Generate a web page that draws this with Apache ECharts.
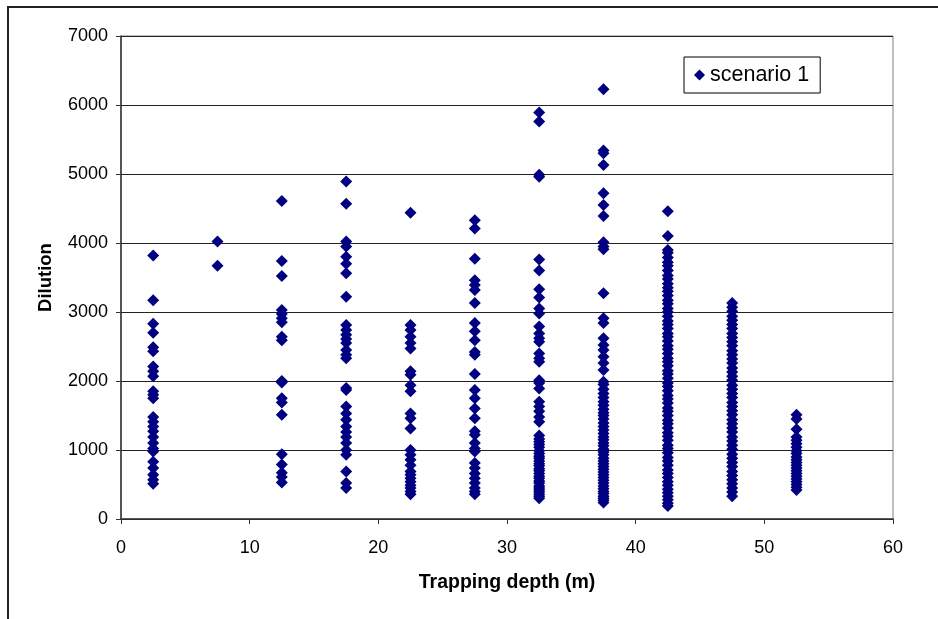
<!DOCTYPE html>
<html>
<head>
<meta charset="utf-8">
<script src="https://cdn.jsdelivr.net/npm/echarts@6/dist/echarts.min.js"></script>
<style>
  html, body { margin: 0; padding: 0; background: #fff; }
  #chart { width: 938px; height: 619px; }
</style>
</head>
<body>
<div id="chart"></div>
<script>
// Trapping depths (m) of each sampling column
const depths = [2.5, 7.5, 12.5, 17.5, 22.5, 27.5, 32.5, 37.5, 42.5, 47.5, 52.5];

// Dilution values measured at each depth
const dilution_2_5 = [3820, 3170, 2830, 2700, 2490, 2430, 2210, 2140, 2070, 1850, 1800, 1750,
  1480, 1410, 1340, 1270, 1190, 1100, 1020, 980, 830, 740, 640, 570, 510];
const dilution_7_5 = [4020, 3670];
const dilution_12_5 = [4610, 3740, 3520, 3030, 2970, 2910, 2850, 2640, 2590, 2000, 1980, 1750,
  1690, 1510, 940, 790, 670, 610, 530];
const dilution_17_5 = [4890, 4570, 4020, 3950, 3800, 3700, 3560, 3220, 2810, 2740, 2670, 2610,
  2550, 2450, 2380, 2330, 1900, 1870, 1630, 1530, 1440, 1340, 1260, 1190, 1100, 1000, 930, 690,
  520, 450];
const dilution_22_5 = [4440, 2810, 2740, 2640, 2550, 2470, 2140, 2090, 1940, 1850, 1530, 1460,
  1310, 1000, 930, 860, 780, 690, 640, 590, 540, 490, 450, 400, 360];
const dilution_27_5 = [4330, 4210, 3770, 3460, 3390, 3320, 3130, 2840, 2720, 2590, 2420, 2380,
  2100, 1870, 1750, 1600, 1460, 1270, 1220, 1100, 1020, 980, 810, 740, 660, 590, 520, 450, 400,
  360];
const dilution_32_5 = [5890, 5760, 4990, 4960, 3760, 3600, 3330, 3210, 3050, 2980, 2790, 2690,
  2620, 2570, 2400, 2330, 2280, 2010, 1970, 1890, 1700, 1630, 1560, 1480, 1410, 1210, 1160, 1120,
  1080, 1040, 990, 950, 910, 880, 840, 800, 770, 730, 700, 660, 620, 590, 550, 520, 480, 450, 420,
  390, 360, 330, 300];
const dilution_37_5 = [6230, 5340, 5300, 5130, 4720, 4550, 4390, 4010, 3950, 3910, 3270, 2910,
  2840, 2620, 2520, 2450, 2350, 2260, 2160, 1990, 1950, 1880, 1820, 1760, 1700, 1650, 1590, 1540,
  1500, 1450, 1390, 1340, 1290, 1240, 1190, 1150, 1100, 1060, 1010, 970, 930, 880, 840, 800, 760,
  720, 680, 640, 600, 560, 520, 480, 440, 400, 370, 330, 300, 270, 240];
const dilution_42_5 = [4460, 4100, 3900, 3860, 3790, 3720, 3670, 3600, 3530, 3480, 3410, 3350,
  3300, 3240, 3170, 3120, 3050, 3000, 2940, 2870, 2820, 2760, 2690, 2640, 2580, 2510, 2460, 2400,
  2330, 2280, 2220, 2150, 2100, 2040, 1970, 1920, 1860, 1790, 1740, 1680, 1610, 1560, 1500, 1430,
  1380, 1320, 1250, 1200, 1140, 1070, 1020, 960, 890, 840, 780, 710, 660, 600, 540, 490, 430, 380,
  330, 280, 230, 190];
const dilution_47_5 = [3130, 3070, 3010, 2940, 2880, 2820, 2760, 2690, 2630, 2570, 2510, 2440,
  2380, 2320, 2260, 2190, 2130, 2070, 2010, 1940, 1880, 1820, 1760, 1690, 1630, 1570, 1510, 1440,
  1380, 1320, 1260, 1190, 1130, 1070, 1010, 940, 880, 820, 760, 690, 630, 570, 510, 450, 390, 330];
const dilution_52_5 = [1510, 1450, 1300, 1190, 1140, 1090, 1040, 990, 950, 900, 860, 820, 780,
  740, 700, 660, 620, 580, 540, 500, 460, 420];

const columns = [dilution_2_5, dilution_7_5, dilution_12_5, dilution_17_5, dilution_22_5,
  dilution_27_5, dilution_32_5, dilution_37_5, dilution_42_5, dilution_47_5, dilution_52_5];

const seriesName = 'scenario 1';
const xTitle = 'Trapping depth (m)';
const yTitle = 'Dilution';

const points = [];
columns.forEach((vals, i) => vals.forEach(v => points.push([depths[i], v])));

const FONT = '"Liberation Sans", Arial, sans-serif';
const chart = echarts.init(document.getElementById('chart'), null, { renderer: 'canvas' });

chart.setOption({
  animation: false,
  backgroundColor: '#fff',
  graphic: [{
    type: 'rect',
    shape: { x: 8, y: 7, width: 960, height: 640 },
    style: { fill: 'none', stroke: '#222', lineWidth: 2 },
    silent: true,
    z: 0
  }],
  grid: {
    left: 121, right: 45, top: 36, bottom: 100,
    show: true, borderColor: '#808080', borderWidth: 1, backgroundColor: 'transparent'
  },
  legend: {
    left: 684, top: 57,
    padding: [7, 11, 7, 10],
    borderColor: '#000', borderWidth: 1,
    itemWidth: 11, itemHeight: 11, itemGap: 4,
    textStyle: { fontFamily: FONT, fontSize: 21.5, color: '#000' },
    data: [{ name: seriesName, icon: 'diamond' }]
  },
  xAxis: {
    type: 'value', min: 0, max: 60, interval: 10,
    name: xTitle, nameLocation: 'middle', nameGap: 54,
    nameTextStyle: { fontFamily: FONT, fontSize: 19.5, fontWeight: 'bold', color: '#000' },
    axisLine: { show: true, onZero: false, lineStyle: { color: '#333', width: 1.5 } },
    axisTick: { show: true, length: 5, lineStyle: { color: '#333' } },
    axisLabel: { fontFamily: FONT, fontSize: 18, color: '#000', margin: 20 },
    splitLine: { show: false }
  },
  yAxis: {
    type: 'value', min: 0, max: 7000, interval: 1000,
    name: yTitle, nameLocation: 'middle', nameGap: 66,
    nameTextStyle: { fontFamily: FONT, fontSize: 18.5, fontWeight: 'bold', color: '#000' },
    axisLine: { show: true, lineStyle: { color: '#333', width: 1.5 } },
    axisTick: { show: true, length: 5, lineStyle: { color: '#333' } },
    axisLabel: { fontFamily: FONT, fontSize: 18, color: '#000', margin: 13, formatter: v => String(v) },
    splitLine: { show: true, lineStyle: { color: '#222', width: 1 } }
  },
  series: [{
    name: seriesName,
    type: 'scatter',
    symbol: 'diamond',
    symbolSize: [12, 12],
    itemStyle: { color: '#000080', opacity: 1 },
    data: points
  }]
});
</script>
</body>
</html>
